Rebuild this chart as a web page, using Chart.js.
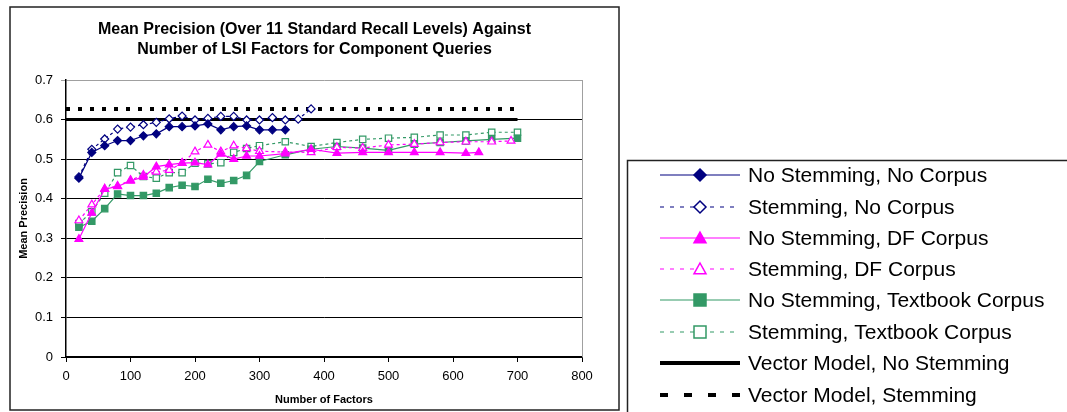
<!DOCTYPE html>
<html lang="en">
<head>
<meta charset="UTF-8">
<title>Mean Precision Against Number of LSI Factors</title>
<script src="https://cdn.jsdelivr.net/npm/chart.js"></script>
<style>
  html, body { margin: 0; padding: 0; background: #fff; }
  #wrap { width: 1067px; height: 412px; }
</style>
</head>
<body>
<div id="wrap"><canvas id="chart" width="1067" height="412"></canvas></div>
<script>
// Number of LSI factors used for each run (x values)
const xNoStemNoCorpus = [20, 40, 60, 80, 100, 120, 140, 160, 180, 200, 220, 240, 260, 280, 300, 320, 340];
const xStemNoCorpus = [20, 40, 60, 80, 100, 120, 140, 160, 180, 200, 220, 240, 260, 280, 300, 320, 340, 360, 380];
const xNoStemDF = [20, 40, 60, 80, 100, 120, 140, 160, 180, 200, 220, 240, 260, 280, 300, 340, 380, 420, 460, 500, 540, 580, 620, 640];
const xStemDF = [20, 40, 60, 80, 100, 120, 140, 160, 180, 200, 220, 240, 260, 280, 300, 340, 380, 420, 460, 500, 540, 580, 620, 660, 690];
const xTextbook = [20, 40, 60, 80, 100, 120, 140, 160, 180, 200, 220, 240, 260, 280, 300, 340, 380, 420, 460, 500, 540, 580, 620, 660, 700];

// Mean precision values
const noStemNoCorpus = [0.452, 0.517, 0.534, 0.547, 0.547, 0.559, 0.564, 0.582, 0.582, 0.584, 0.589, 0.574, 0.582, 0.584, 0.574, 0.574, 0.574];
const stemNoCorpus = [0.455, 0.525, 0.551, 0.576, 0.581, 0.587, 0.593, 0.602, 0.609, 0.599, 0.603, 0.608, 0.608, 0.599, 0.599, 0.605, 0.599, 0.601, 0.627];
const noStemDF = [0.298, 0.364, 0.424, 0.431, 0.445, 0.455, 0.481, 0.486, 0.490, 0.491, 0.486, 0.513, 0.500, 0.508, 0.508, 0.514, 0.525, 0.515, 0.517, 0.517, 0.517, 0.517, 0.515, 0.517];
const stemDF = [0.345, 0.385, 0.425, 0.432, 0.447, 0.460, 0.468, 0.472, 0.490, 0.519, 0.536, 0.519, 0.534, 0.527, 0.520, 0.518, 0.517, 0.530, 0.528, 0.536, 0.538, 0.542, 0.544, 0.544, 0.546];
const noStemTextbook = [0.328, 0.343, 0.375, 0.412, 0.408, 0.408, 0.414, 0.428, 0.434, 0.431, 0.449, 0.439, 0.446, 0.459, 0.494, 0.511, 0.525, 0.532, 0.528, 0.522, 0.538, 0.542, 0.546, 0.550, 0.553];
const stemTextbook = [0.337, 0.367, 0.414, 0.466, 0.484, 0.456, 0.452, 0.466, 0.466, 0.490, 0.488, 0.491, 0.517, 0.527, 0.534, 0.544, 0.532, 0.542, 0.550, 0.553, 0.555, 0.561, 0.561, 0.568, 0.568];

// Vector model baselines
const xVector = [0, 700];
const vectorNoStem = [0.6, 0.6];
const vectorStem = [0.627, 0.627];

const chartTitle = ['Mean Precision (Over 11 Standard Recall Levels) Against', 'Number of LSI Factors for Component Queries'];

const NAVY = '#000080';
const MAGENTA = '#ff00ff';
const GREEN = '#339966';

function pts(xs, ys) {
    return xs.map((x, i) => ({ x: x, y: ys[i] }));
}

// draw a legend marker
function drawMarker(ctx, style, x, y, r, fill, stroke) {
    ctx.beginPath();
    if (style === 'rectRot') {
        ctx.moveTo(x, y - r); ctx.lineTo(x + r, y); ctx.lineTo(x, y + r); ctx.lineTo(x - r, y);
    } else if (style === 'triangle') {
        ctx.moveTo(x, y - r); ctx.lineTo(x + r, y + r * 0.8); ctx.lineTo(x - r, y + r * 0.8);
    } else if (style === 'rect') {
        ctx.rect(x - r, y - r, r * 2, r * 2);
    }
    ctx.closePath();
    ctx.fillStyle = fill;
    ctx.fill();
    ctx.lineWidth = 1.5;
    ctx.strokeStyle = stroke;
    ctx.stroke();
}

const legendRows = [175, 207, 238, 269, 300, 332, 363, 395];

const frameLegendPlugin = {
    id: 'frameLegend',
    afterDraw(chart) {
        const ctx = chart.ctx;
        const a = chart.chartArea;
        ctx.save();
        // grey right edge of the plot area
        ctx.strokeStyle = '#a0a0a0';
        ctx.lineWidth = 1;
        ctx.beginPath();
        ctx.moveTo(a.right + 0.5, a.top);
        ctx.lineTo(a.right + 0.5, a.bottom);
        ctx.stroke();

        // outer chart frame
        ctx.strokeStyle = '#222';
        ctx.lineWidth = 1.5;
        ctx.strokeRect(10, 7, 609, 403);

        // legend box (runs off the right and bottom)
        ctx.beginPath();
        ctx.moveTo(627.5, 412);
        ctx.lineTo(627.5, 160.5);
        ctx.lineTo(1067, 160.5);
        ctx.stroke();

        chart.data.datasets.forEach((ds, i) => {
            const y = legendRows[i];
            ctx.setLineDash(ds.legendDash || []);
            ctx.lineDashOffset = 0;
            ctx.strokeStyle = ds.borderColor;
            ctx.lineWidth = ds.legendWidth || ds.borderWidth;
            ctx.beginPath();
            ctx.moveTo(660, y);
            ctx.lineTo(740, y);
            ctx.stroke();
            ctx.setLineDash([]);
            if (ds.pointRadius > 0) {
                drawMarker(ctx, ds.pointStyle, 700, y, 6, ds.pointBackgroundColor, ds.pointBorderColor);
            }
            ctx.fillStyle = '#000';
            ctx.font = '21px "Liberation Sans", Arial, sans-serif';
            ctx.textBaseline = 'middle';
            ctx.textAlign = 'left';
            ctx.fillText(ds.label, 748, y + 1);
        });
        ctx.restore();
    }
};

const ctx = document.getElementById('chart').getContext('2d');
new Chart(ctx, {
    type: 'line',
    data: {
        datasets: [
            {
                label: 'No Stemming, No Corpus',
                data: pts(xNoStemNoCorpus, noStemNoCorpus),
                borderColor: NAVY, borderWidth: 1.2,
                pointStyle: 'rectRot', pointRadius: 4,
                pointBackgroundColor: NAVY, pointBorderColor: NAVY
            },
            {
                label: 'Stemming, No Corpus',
                data: pts(xStemNoCorpus, stemNoCorpus),
                borderColor: NAVY, borderWidth: 1.2, borderDash: [3, 3], legendDash: [4, 6],
                pointStyle: 'rectRot', pointRadius: 4,
                pointBackgroundColor: '#fff', pointBorderColor: NAVY
            },
            {
                label: 'No Stemming, DF Corpus',
                data: pts(xNoStemDF, noStemDF),
                borderColor: MAGENTA, borderWidth: 1.2,
                pointStyle: 'triangle', pointRadius: 4.5,
                pointBackgroundColor: MAGENTA, pointBorderColor: MAGENTA
            },
            {
                label: 'Stemming, DF Corpus',
                data: pts(xStemDF, stemDF),
                borderColor: MAGENTA, borderWidth: 1.2, borderDash: [3, 3], legendDash: [4, 6],
                pointStyle: 'triangle', pointRadius: 4.5,
                pointBackgroundColor: '#fff', pointBorderColor: MAGENTA
            },
            {
                label: 'No Stemming, Textbook Corpus',
                data: pts(xTextbook, noStemTextbook),
                borderColor: GREEN, borderWidth: 1.2,
                pointStyle: 'rect', pointRadius: 4.5,
                pointBackgroundColor: GREEN, pointBorderColor: GREEN
            },
            {
                label: 'Stemming, Textbook Corpus',
                data: pts(xTextbook, stemTextbook),
                borderColor: GREEN, borderWidth: 1.2, borderDash: [3, 3], legendDash: [4, 6],
                pointStyle: 'rect', pointRadius: 4.5,
                pointBackgroundColor: '#fff', pointBorderColor: GREEN
            },
            {
                label: 'Vector Model, No Stemming',
                data: pts(xVector, vectorNoStem),
                borderColor: '#000', borderWidth: 3, legendWidth: 4,
                pointRadius: 0
            },
            {
                label: 'Vector Model, Stemming',
                data: pts(xVector, vectorStem),
                borderColor: '#000', borderWidth: 4, borderDash: [4, 8], legendDash: [8, 16],
                pointRadius: 0
            }
        ]
    },
    options: {
        responsive: false,
        animation: false,
        layout: { padding: { left: 10, right: 448, top: 0, bottom: 2 } },
        elements: { line: { tension: 0 } },
        plugins: {
            legend: { display: false },
            tooltip: { enabled: false },
            title: {
                display: true,
                text: chartTitle,
                color: '#000',
                font: { family: '"Liberation Sans", Arial, sans-serif', size: 16, weight: 'bold', lineHeight: 1.25 },
                padding: { top: 20, bottom: 20 }
            }
        },
        scales: {
            x: {
                type: 'linear',
                min: 0, max: 800,
                ticks: { stepSize: 100, color: '#000', padding: 7, font: { family: '"Liberation Sans", Arial, sans-serif', size: 13 } },
                grid: { drawOnChartArea: false, drawTicks: true, tickLength: 5, color: '#000' },
                border: { color: '#000', width: 1.5 },
                title: {
                    display: true, text: 'Number of Factors', color: '#000',
                    font: { family: '"Liberation Sans", Arial, sans-serif', size: 11, weight: 'bold' },
                    padding: { top: 0, bottom: 3 }
                },
                afterFit(s) { s.height = 53; }
            },
            y: {
                min: 0, max: 0.7,
                ticks: { stepSize: 0.1, color: '#000', padding: 8, font: { family: '"Liberation Sans", Arial, sans-serif', size: 13 } },
                grid: {
                    tickLength: 5,
                    color: (c) => (c.tick && c.tick.value > 0.69 ? '#a0a0a0' : '#000')
                },
                border: { color: '#000', width: 1.5 },
                title: {
                    display: true, text: 'Mean Precision', color: '#000',
                    font: { family: '"Liberation Sans", Arial, sans-serif', size: 11, weight: 'bold' },
                    padding: { top: 7, bottom: 0 }
                },
                afterFit(s) { s.width = 56; }
            },
            // empty spacer axis: keeps the plot area clear of the frame on the right
            yRight: {
                position: 'right',
                display: true,
                ticks: { display: false },
                grid: { display: false },
                border: { display: false },
                afterFit(s) { s.width = 37; }
            }
        }
    },
    plugins: [frameLegendPlugin]
});
</script>
</body>
</html>
